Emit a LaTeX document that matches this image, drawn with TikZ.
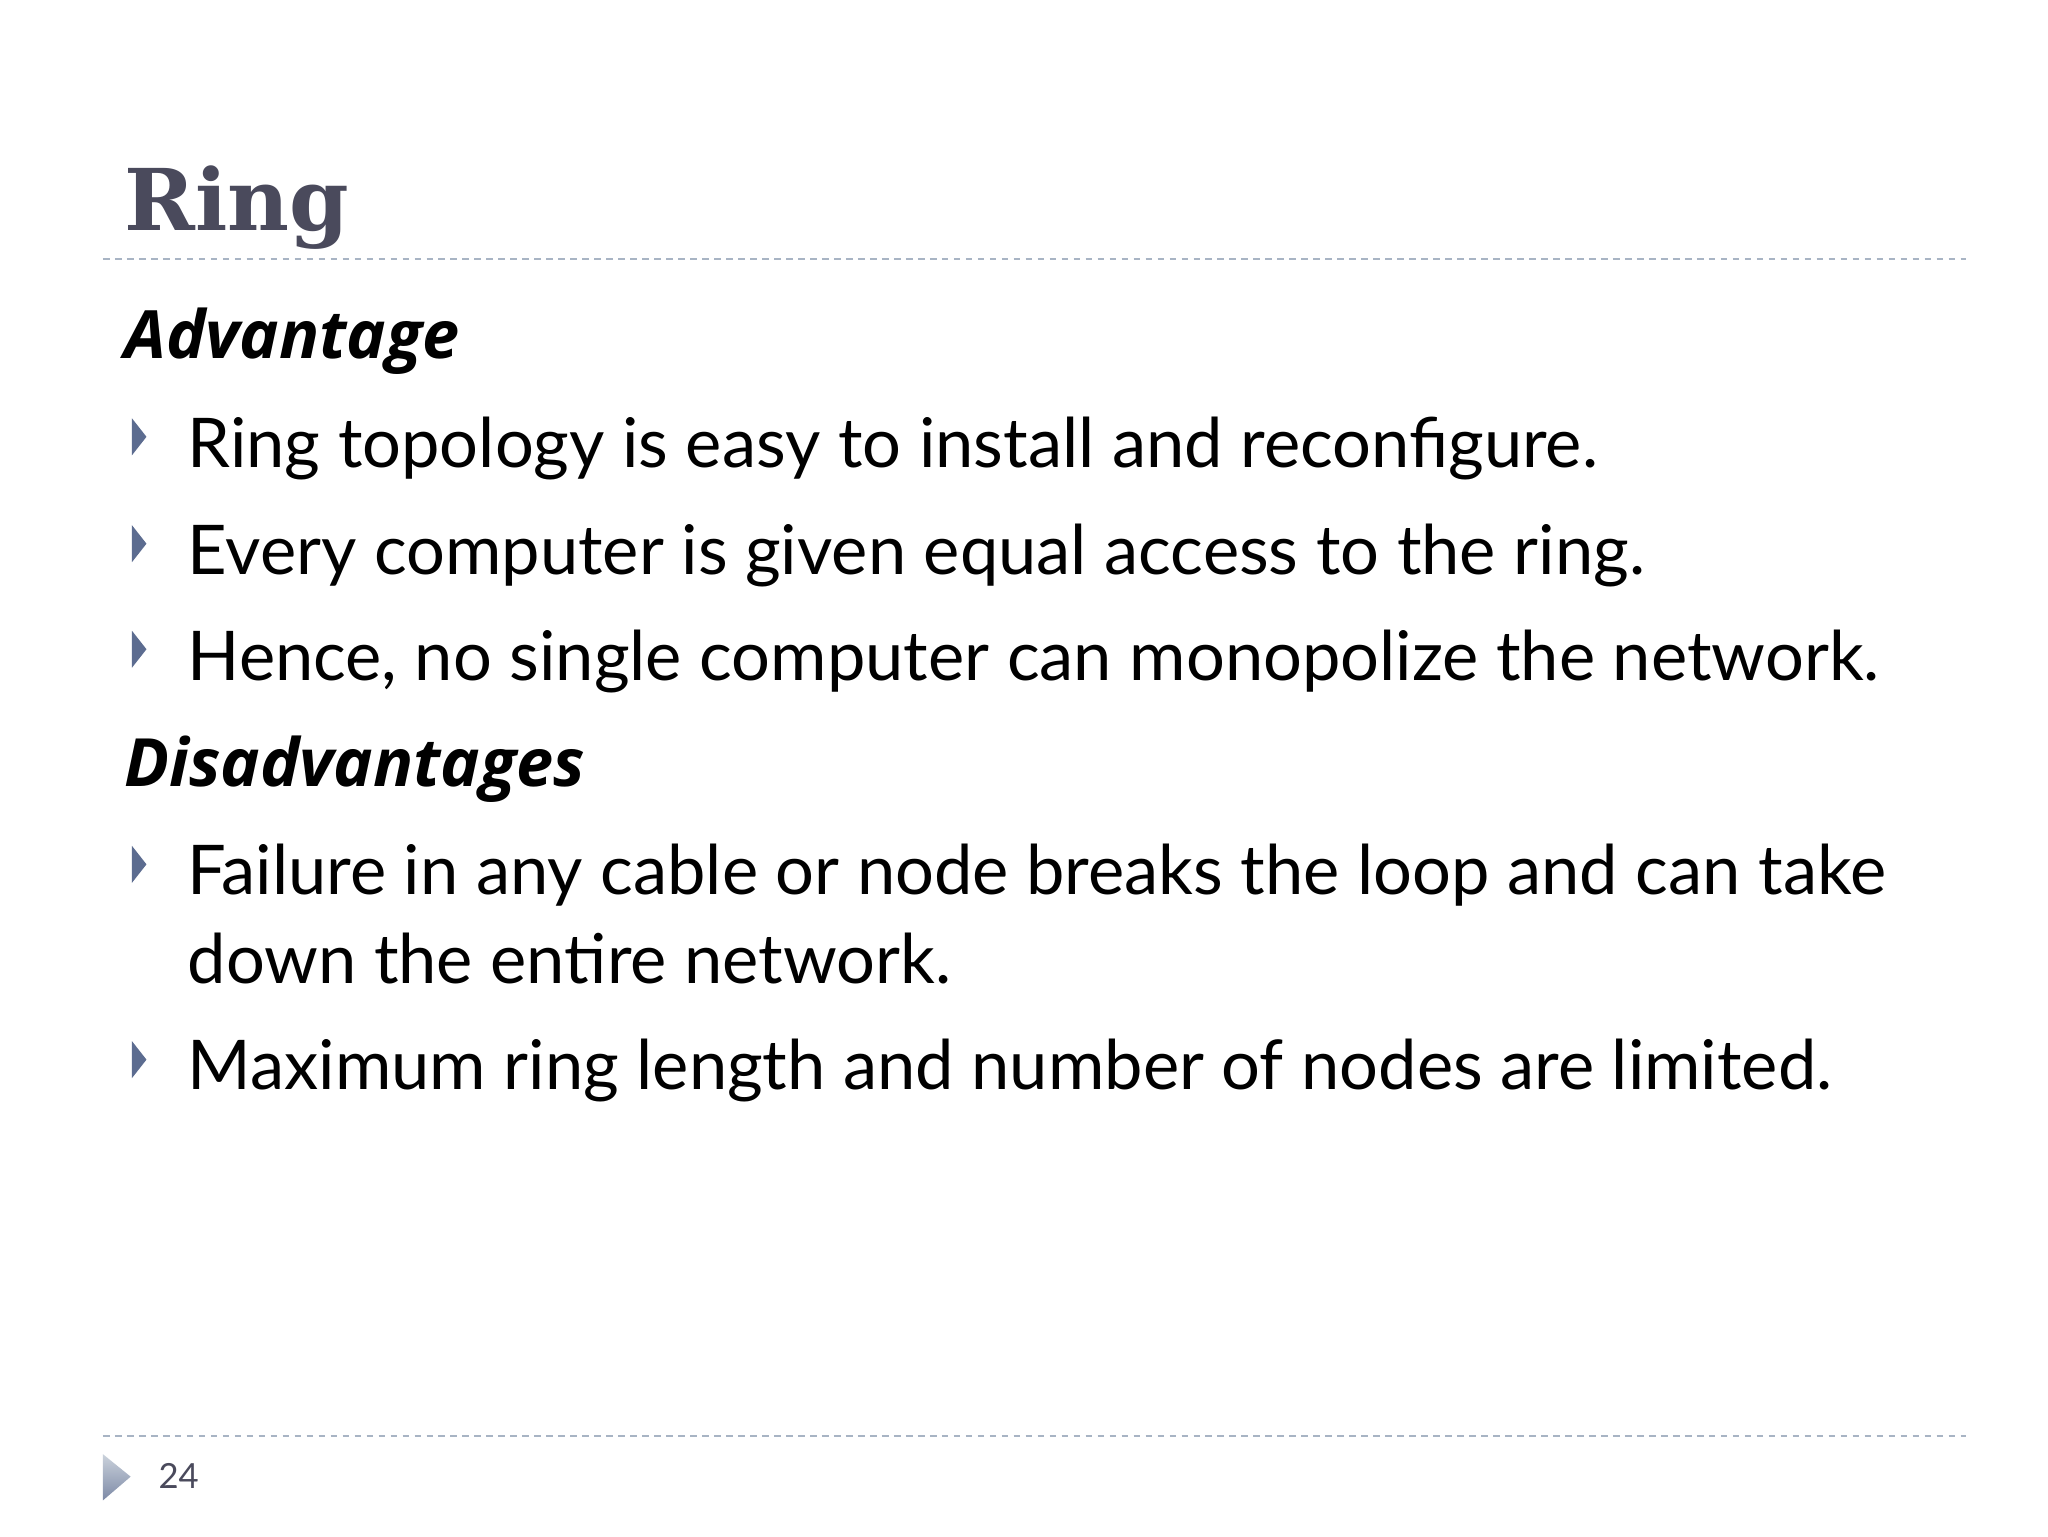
\documentclass[tikz,border=0pt]{standalone}
\usepackage{fontspec}
\setmainfont{Lato}
\newfontfamily\titlefont{DejaVu Serif}
\newfontfamily\headfont{Open Sans}
\definecolor{titlec}{HTML}{4A4A5C}
\definecolor{dashc}{HTML}{A8B4C4}
\definecolor{bulc}{HTML}{5C6C90}
\begin{document}
\begin{tikzpicture}[x=0.991pt,y=-0.991pt,
  body/.style={anchor=base west,inner sep=0pt,font=\fontsize{51.5}{60}\selectfont},
  head/.style={anchor=base west,inner sep=0pt,font=\headfont\fontsize{50}{58}\selectfont\bfseries\itshape},
  bul/.style={fill=bulc},
  rule/.style={dashc,line width=1.3pt,dash pattern=on 5pt off 4pt}]
\useasboundingbox[fill=white] (0,0) rectangle (1552,1164);
\node[anchor=base west,inner sep=0pt,text=titlec,font=\titlefont\fontsize{64}{70}\selectfont\bfseries] (title) at (94,175) {Ring};
\draw[rule] (78,196) -- (1490,196);
\draw[rule] (78,1088) -- (1490,1088);
\node[head] (adv) at (94,272) {Advantage};
\node[head] (dis) at (94,596) {Disadvantages};
\foreach \y/\t [count=\i] in {354/Ring topology is easy to install and reconfigure.,
  435/Every computer is given equal access to the ring.,
  516/{Hence, no single computer can monopolize the network.},
  678/Failure in any cable or node breaks the loop and can take,
  745/down the entire network.,
  826/Maximum ring length and number of nodes are limited.}
  \node[body] (t\i) at (142,\y) {\t};
\foreach \y in {331,412,492,655,803}
  \fill[bul] (100,\y-14) -- (111,\y) -- (100,\y+14) -- cycle;
\shade[top color=dashc!60,bottom color=bulc!80] (78,1102) -- (99,1119) -- (78,1137) -- cycle;
\node[anchor=base west,inner sep=0pt,text=titlec,font=\fontsize{26}{28}\selectfont] (pg) at (120,1128) {24};
\end{tikzpicture}
\end{document}
